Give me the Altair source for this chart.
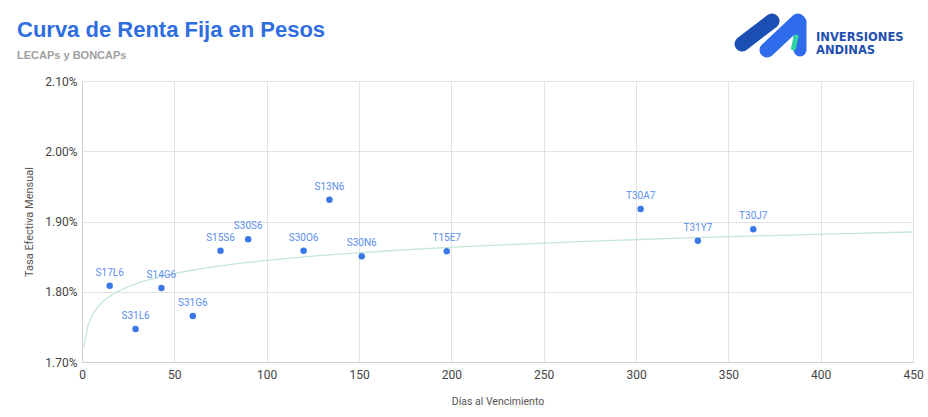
import altair as alt
import pandas as pd

# ---- data ----
bonds = ["S17L6", "S31L6", "S14G6", "S31G6", "S15S6", "S30S6", "S30O6",
         "S13N6", "S30N6", "T15E7", "T30A7", "T31Y7", "T30J7"]
days = [15, 29, 43, 60, 75, 90, 120, 134, 151.5, 197.5, 302.5, 333.5, 363.5]
rates = [1.8086, 1.747, 1.8053, 1.7655, 1.8584, 1.8747, 1.8584,
         1.931, 1.8505, 1.8576, 1.9178, 1.8727, 1.8889]

# trendline points
trend_days = [1, 2.5, 10, 28, 64, 107, 118, 226, 280, 450]
trend_rates = [1.72, 1.745, 1.783, 1.811, 1.835, 1.846, 1.849, 1.866, 1.871, 1.885]

x_ticks = [0, 50, 100, 150, 200, 250, 300, 350, 400, 450]
y_ticks = [1.7, 1.8, 1.9, 2.0, 2.1]

title_text = "Curva de Renta Fija en Pesos"
subtitle_text = "LECAPs y BONCAPs"
logo_lines = ["INVERSIONES", "ANDINAS"]

pts = pd.DataFrame({"bono": bonds, "dias": days, "tem": rates})
trend = pd.DataFrame({"dias": trend_days, "tem": trend_rates})
one = pd.DataFrame({"k": [0]})

xenc = alt.X(
    "dias:Q",
    scale=alt.Scale(domain=[0, 450], nice=False, zero=False),
    axis=alt.Axis(values=x_ticks, title="Días al Vencimiento", format="d",
                  labelFont="Roboto", labelFontSize=12, labelColor="#444444",
                  labelPadding=7, labelFlush=False, ticks=False,
                  domainColor="#cfcfcf", gridColor="#e3e3e3",
                  titleFont="Roboto", titleFontSize=10.5,
                  titleFontWeight="normal", titleColor="#555555", titlePadding=16),
)
yenc = alt.Y(
    "tem:Q",
    scale=alt.Scale(domain=[1.7, 2.1], nice=False, zero=False),
    axis=alt.Axis(values=y_ticks, title="Tasa Efectiva Mensual",
                  labelExpr="format(datum.value, '.2f') + '%'",
                  labelFont="Roboto", labelFontSize=12, labelColor="#444444",
                  labelPadding=5, labelFlush=False, ticks=False,
                  domainColor="#cfcfcf", gridColor="#e3e3e3",
                  titleFont="Roboto", titleFontSize=11,
                  titleFontWeight="normal", titleColor="#555555", titlePadding=10),
)

trend_line = alt.Chart(trend).transform_regression(
    "dias", "tem", method="log", extent=[1, 450]
).mark_line(color="#c4e6d9", strokeWidth=1.3).encode(x=xenc, y=yenc)

points = alt.Chart(pts).mark_circle(size=42, color="#3b78e7", opacity=1).encode(
    x=xenc, y=yenc
)

labels = alt.Chart(pts).mark_text(
    dy=-10, baseline="alphabetic", align="center", fontSize=10,
    font="Roboto", color="#5b8ef0"
).encode(x=xenc, y=yenc, text="bono:N")


# ---- header texts and logo (decorative, positioned relative to plot origin) ----
def txt(s, x, y, size, color, font, weight="bold"):
    return alt.Chart(one).mark_text(
        text=s, align="left", baseline="alphabetic", font=font,
        fontSize=size, fontWeight=weight, color=color, clip=False
    ).encode(x=alt.value(x - 82), y=alt.value(y - 81))


def bar(x1, y1, x2, y2, color, w):
    return alt.Chart(one).mark_rule(
        color=color, strokeWidth=w, strokeCap="round", clip=False
    ).encode(x=alt.value(x1 - 82), y=alt.value(y1 - 81),
             x2=alt.value(x2 - 82), y2=alt.value(y2 - 81))


title_mark = txt(title_text, 17, 37, 22, "#2f6de1", "Liberation Sans")
subtitle_mark = txt(subtitle_text, 17, 59, 11, "#9e9e9e", "Liberation Sans")

logo_dark = bar(742, 44, 772, 21, "#1c4fb3", 15)
logo_blue1 = bar(767, 50, 798, 21, "#2f6cec", 15)
logo_blue2 = bar(800, 22, 800, 50, "#2f6cec", 13)
logo_teal = bar(796, 37, 793.5, 48, "#2fd3a3", 5)

logo_t1 = txt(logo_lines[0], 816, 41, 11.5, "#1f4fb0", "DejaVu Sans")
logo_t2 = txt(logo_lines[1], 816, 53.5, 11.5, "#1f4fb0", "DejaVu Sans")

chart = alt.layer(
    trend_line, points, labels,
    title_mark, subtitle_mark,
    logo_dark, logo_blue1, logo_blue2, logo_teal, logo_t1, logo_t2
).properties(
    width=831, height=281,
    autosize=alt.AutoSizeParams(type="none"),
    padding={"left": 82, "top": 81, "right": 15, "bottom": 55},
    background="white",
).configure_view(stroke=None)

chart.save("out.html", embed_options={"renderer": "svg", "actions": False})
